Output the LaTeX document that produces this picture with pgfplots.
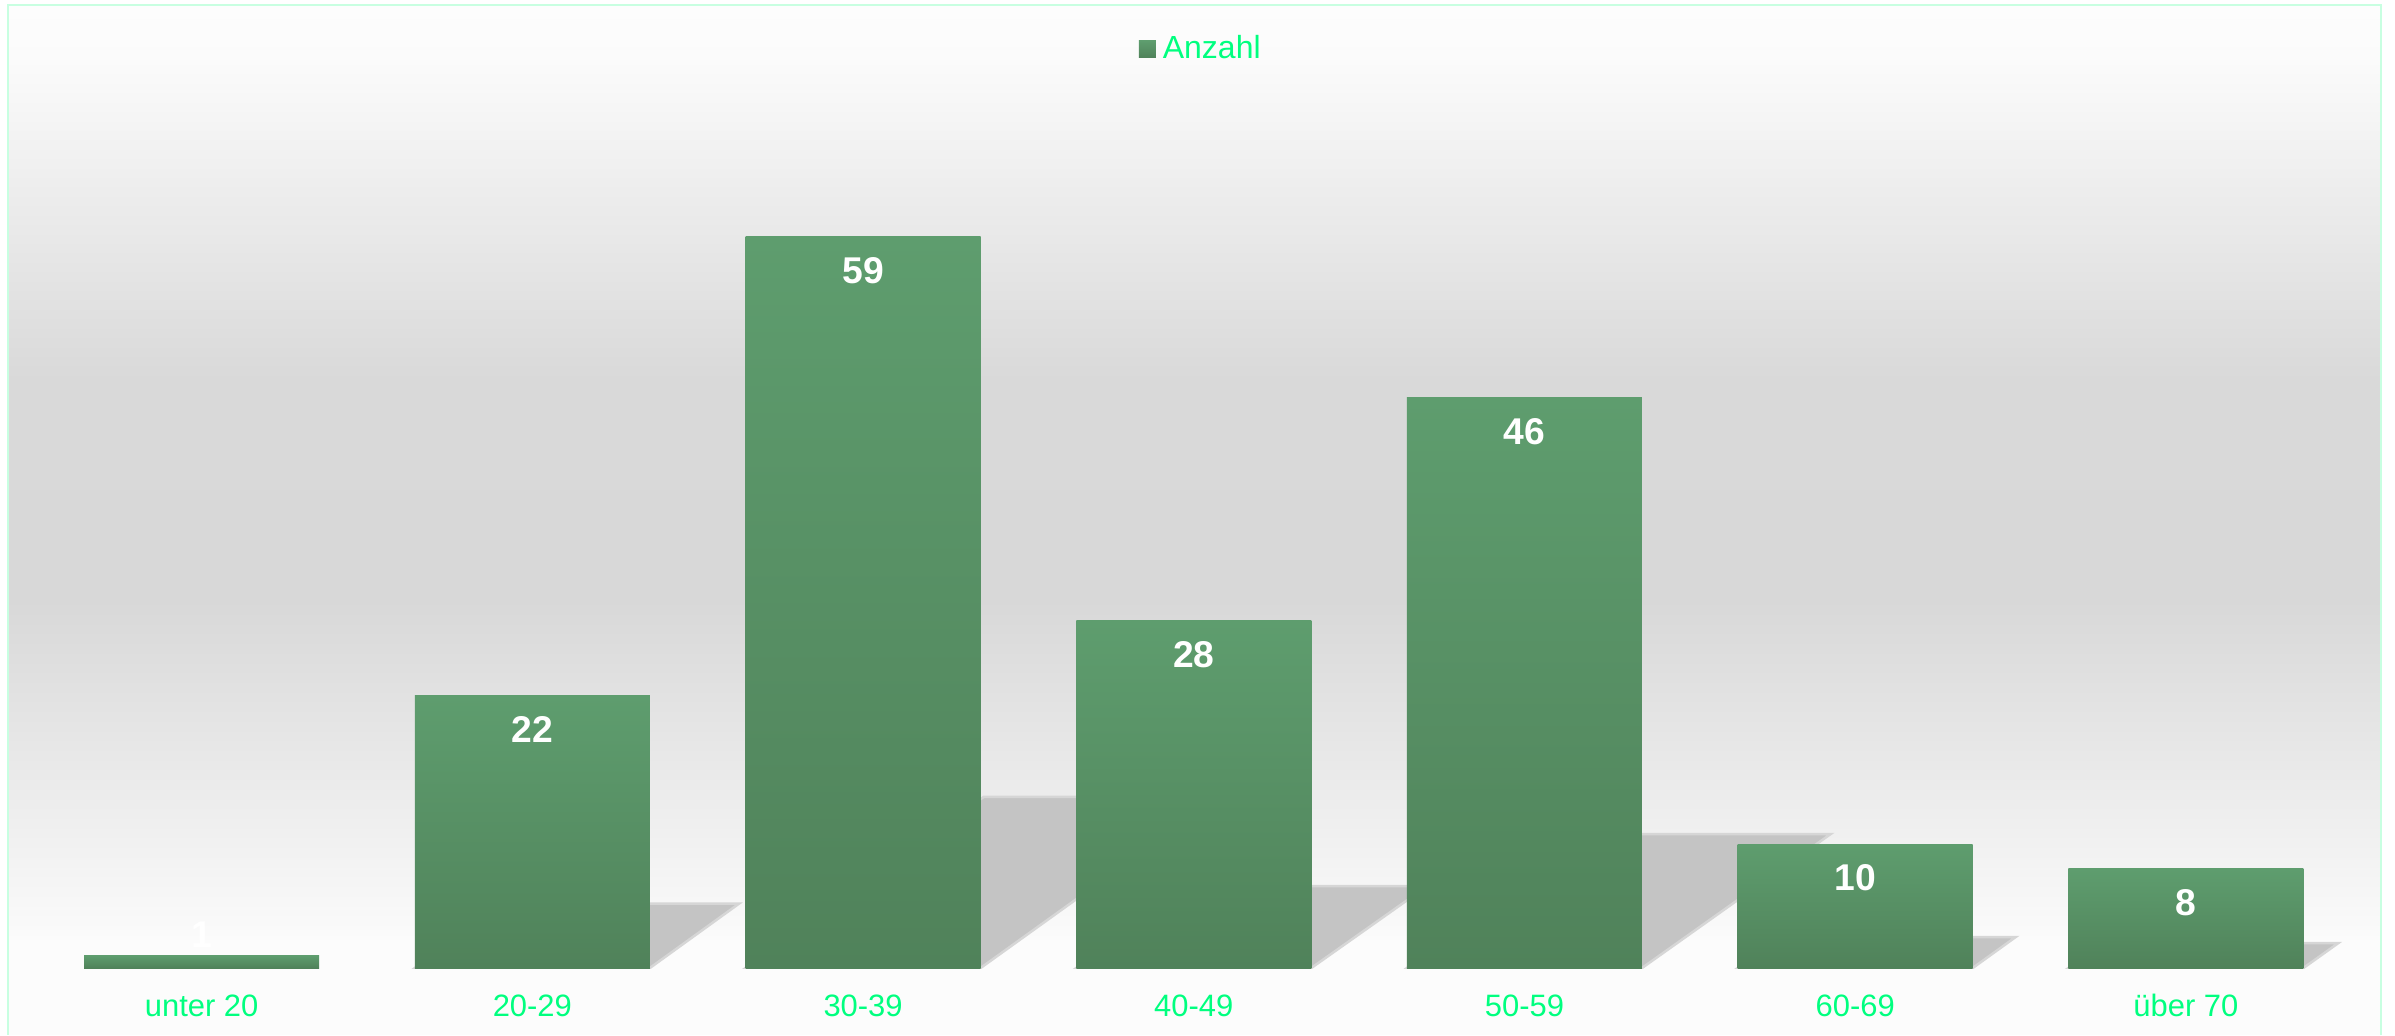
\documentclass[border=0pt]{standalone}
\usepackage{pgfplots}
\pgfplotsset{compat=1.18}
\usepackage{fontspec}
\setmainfont{Liberation Sans}
\definecolor{barTop}{RGB}{94,157,110}
\definecolor{barMid}{RGB}{89,146,103}
\definecolor{barBot}{RGB}{80,130,90}
\definecolor{txtGreen}{RGB}{0,255,127}
\definecolor{borderc}{RGB}{200,255,225}
\definecolor{shadowc}{RGB}{196,196,196}
\definecolor{shadowe}{RGB}{214,214,214}
\definecolor{bgA}{RGB}{253,253,253}
\definecolor{bgB}{RGB}{251,251,251}
\definecolor{bgC}{RGB}{217,217,217}
\definecolor{bgD}{RGB}{216,216,216}
\definecolor{bgE}{RGB}{251,251,251}
\definecolor{bgG}{RGB}{252,252,252}
\pgfplotsset{
  mybar/.style={ybar, bar width=2.35cm, bar shift=0pt, draw=none,
    top color=barTop, middle color=barMid, bottom color=barBot,
    nodes near coords,
    every node near coord/.append style={anchor=center, yshift=-0.34cm, text=white,
      font=\fontsize{10.6}{12}\selectfont\bfseries}},
  myshadow/.style={fill=shadowc, draw=shadowe, line width=0.025cm, forget plot},
}
\begin{document}
\begin{tikzpicture}
% background bands (y = 10.35 - pixel/100)
\shade[top color=bgA, bottom color=bgB] (0.076,9.75) rectangle (23.807,10.303);
\shade[top color=bgB, bottom color=bgC] (0.076,6.55) rectangle (23.807,9.751);
\shade[top color=bgC, bottom color=bgD] (0.076,4.35) rectangle (23.807,6.551);
\shade[top color=bgD, bottom color=bgE] (0.076,0.95) rectangle (23.807,4.351);
\fill[bgG] (0.076,0) rectangle (23.807,0.951);
\begin{axis}[
  at={(0.065cm,0.67cm)}, anchor=south west,
  scale only axis, width=23.745cm, height=9.63cm,
  xmin=-0.59, xmax=6.59, ymin=0, ymax=77.7,
  axis line style={draw=none}, tick style={draw=none},
  ytick=\empty, xtick={0,...,6},
  xticklabels={unter 20,20-29,30-39,40-49,50-59,60-69,über 70},
  xticklabel style={anchor=base, yshift=-0.48cm, text=txtGreen, font=\fontsize{8.8}{10}\selectfont},
  /pgf/number format/assume math mode=true,
  legend style={at={(0.504,0.954)}, anchor=center, draw=none, fill=none,
    font=\fontsize{9.1}{10}\selectfont, text=txtGreen, inner sep=0pt},
]
% shadows
\addplot[myshadow] coordinates {(0.6447,0) (0.9147,5.2) (1.6253,5.2) (1.3553,0)} -- cycle;
\addplot[myshadow] coordinates {(1.6447,0) (2.3647,13.8) (3.0753,13.8) (2.3553,0)} -- cycle;
\addplot[myshadow] coordinates {(2.6447,0) (2.9947,6.6) (3.7053,6.6) (3.3553,0)} -- cycle;
\addplot[myshadow] coordinates {(3.6447,0) (4.2147,10.8) (4.9253,10.8) (4.3553,0)} -- cycle;
\addplot[myshadow] coordinates {(4.6447,0) (4.7747,2.5) (5.4853,2.5) (5.3553,0)} -- cycle;
\addplot[myshadow] coordinates {(5.6447,0) (5.7497,2.0) (6.4603,2.0) (6.3553,0)} -- cycle;
% bars
\addplot[mybar,
  legend image code/.code={\shade[top color=barTop, bottom color=barBot] (0cm,-0.085cm) rectangle (0.17cm,0.085cm);}]
  coordinates {(1,22)};
\addlegendentry{Anzahl}
\addplot[mybar, forget plot] coordinates {(2,59)};
\addplot[mybar, forget plot] coordinates {(3,28)};
\addplot[mybar, forget plot] coordinates {(4,46)};
\addplot[mybar, forget plot] coordinates {(5,10)};
\addplot[mybar, forget plot] coordinates {(6,8)};
\addplot[mybar, forget plot,
  every node near coord/.append style={yshift=0.55cm}] coordinates {(0,1)};
\end{axis}
\draw[borderc, line width=0.02cm] (0.076,0) -- (0.076,10.303) -- (23.807,10.303) -- (23.807,0);
\pgfresetboundingbox
\path[use as bounding box] (0,0) rectangle (23.95,10.35);
\end{tikzpicture}
\end{document}
